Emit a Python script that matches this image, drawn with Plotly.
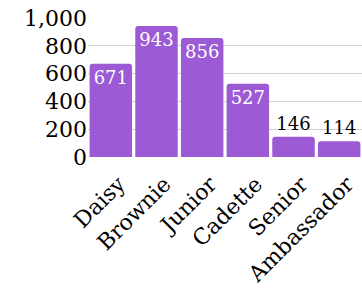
import plotly.graph_objects as go

categories = ["Daisy", "Brownie", "Junior", "Cadette", "Senior", "Ambassador"]
values = [671, 943, 856, 527, 146, 114]
y_ticks = [0, 200, 400, 600, 800, 1000]

positions = ["inside" if v > 300 else "outside" for v in values]
text_colors = ["white" if p == "inside" else "black" for p in positions]

fig = go.Figure(go.Bar(
    x=categories,
    y=values,
    text=[str(v) for v in values],
    textposition=positions,
    insidetextanchor="end",
    textfont=dict(family="DejaVu Serif", size=18, color=text_colors),
    marker=dict(color="#9c5bd4", line=dict(width=0)),
    cliponaxis=False,
))

fig.update_layout(
    width=362, height=291,
    margin=dict(l=88, r=0, t=18, b=134),
    paper_bgcolor="white", plot_bgcolor="white",
    bargap=0.07,
    barcornerradius=3,
    showlegend=False,
    font=dict(family="DejaVu Serif", color="black"),
)
fig.update_yaxes(
    range=[0, 1000], tickvals=y_ticks, tickformat=",",
    showgrid=True, gridcolor="#d0d0d0", gridwidth=1,
    zeroline=False, showline=False, ticks="", automargin=False,
    tickfont=dict(family="DejaVu Serif", size=22, color="black"),
)
fig.update_xaxes(
    tickangle=-45, showgrid=False, showline=False, ticks="", automargin=False,
    ticklabelstandoff=9, ticklabelshift=8,
    tickfont=dict(family="DejaVu Serif", size=22, color="black"),
)

fig.write_html(
    "out.html",
    config={"displayModeBar": False},
    post_script="document.body.style.margin='0';document.body.style.overflow='hidden';",
)
